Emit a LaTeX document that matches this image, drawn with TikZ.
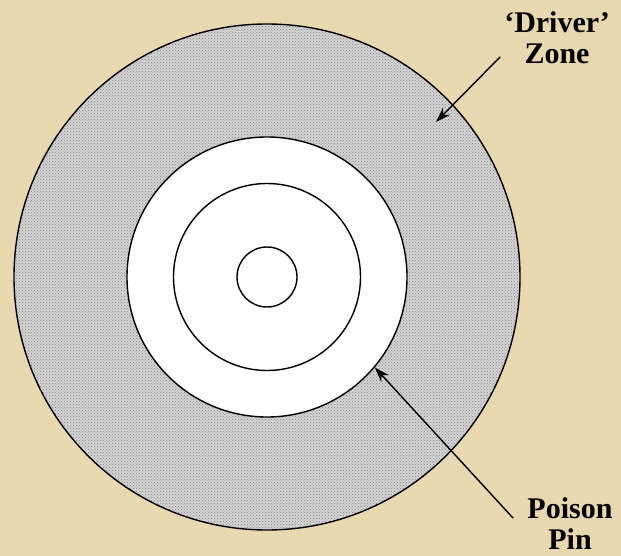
\documentclass[tikz,border=0pt]{standalone}
\usepackage{fontspec}
\setmainfont{Liberation Serif}
\usepackage{tikz}
\usetikzlibrary{arrows.meta,patterns,positioning}
\definecolor{zonebg}{HTML}{E8D8B0}

\begin{document}
\begin{tikzpicture}[x=1pt,y=-1pt,line cap=round,line join=round,
  >={Stealth[length=15pt,width=10pt]},
  ring/.style={circle,draw,line width=1.4pt,inner sep=0pt},
  lbl/.style={font=\fontsize{30}{31}\selectfont\bfseries,align=center,inner sep=0pt},
  pointer/.style={->,line width=1.4pt}]
\path[use as bounding box] (0,0) rectangle (621,556);
\fill[zonebg] (0,0) rectangle (621,556);

% rings, centre at (267,277) in pixel units
\node[ring,minimum size=506pt,preaction={fill=black!17},
  pattern=crosshatch dots,pattern color=black!50] (outer) at (267,277) {};
\node[ring,minimum size=280pt,fill=white] (mid) at (outer.center) {};
\node[ring,minimum size=187pt] (inner) at (outer.center) {};
\node[ring,minimum size=60pt] (core) at (outer.center) {};

% labels
\node[lbl,anchor=north] (driver) at (557,11) {‘Driver’\\Zone};
\node[lbl,anchor=north] (poison) at (570,497) {Poison\\Pin};
\coordinate (drvtail) at (500,57);
\coordinate (drvtip) at (436,122);
\coordinate (pintail) at (513,518);
\draw[pointer] (drvtail) -- (drvtip);
\draw[pointer] (pintail) -- (mid.-40);
\end{tikzpicture}
\end{document}
